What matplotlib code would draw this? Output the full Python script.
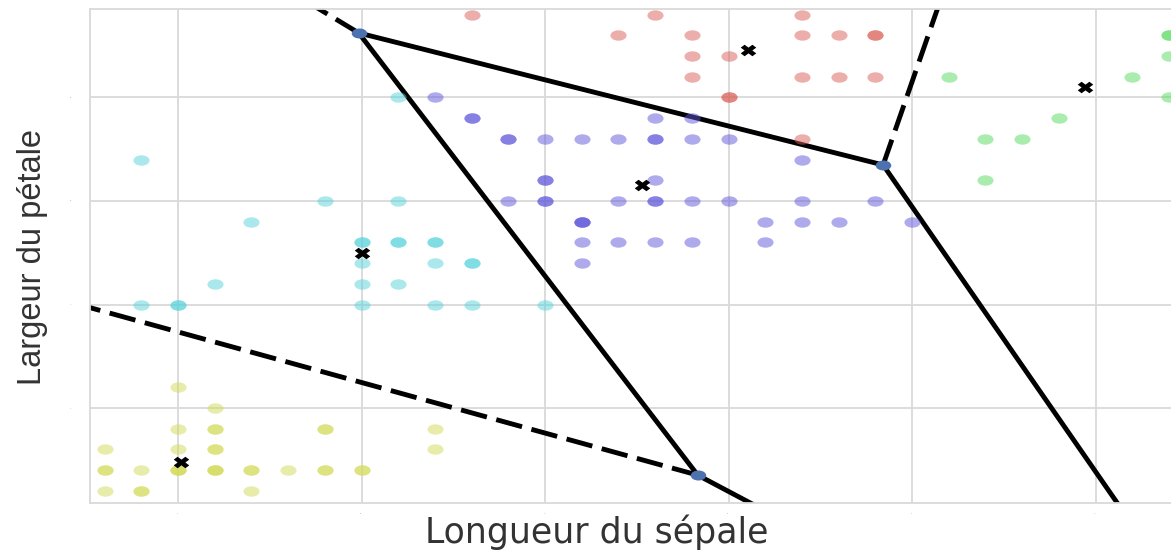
from itertools import combinations

import numpy as np
import matplotlib
matplotlib.use("Agg")
import matplotlib.pyplot as plt
import seaborn as sns
from matplotlib.path import Path
from matplotlib.markers import MarkerStyle
from matplotlib.transforms import Affine2D

# iris flowers grouped in 5 clusters : (sepal length, petal width)
yellow_x = [4.5, 4.6, 4.5, 4.6, 4.6, 4.9, 4.9, 5.2, 4.3, 4.5, 4.6, 4.6, 5.2,
            4.3, 4.3, 4.4, 4.5, 4.5, 4.5, 4.6, 4.6, 4.6, 4.7, 4.7, 4.8,
            4.9, 4.9, 5.0, 5.0, 4.3, 4.4, 4.4, 4.7]
yellow_y = [0.6, 0.5, 0.4, 0.4, 0.4, 0.4, 0.4, 0.4, 0.3, 0.3, 0.3, 0.3, 0.3,
            0.2, 0.2, 0.2, 0.2, 0.2, 0.2, 0.2, 0.2, 0.2, 0.2, 0.2, 0.2,
            0.2, 0.2, 0.2, 0.2, 0.1, 0.1, 0.1, 0.1]

cyan_x = [4.4, 4.9, 4.7, 5.0, 5.0, 5.0, 4.6, 5.0, 4.4, 4.5, 4.5, 5.0, 5.1,
          5.1, 5.1, 5.1, 5.2, 5.2, 5.2, 5.3, 5.3, 5.1, 5.2, 5.3, 5.5]
cyan_y = [1.7, 1.5, 1.4, 1.3, 1.3, 1.2, 1.1, 1.1, 1.0, 1.0, 1.0, 1.0, 2.0,
          1.5, 1.3, 1.3, 1.3, 1.3, 1.2, 1.2, 1.2, 1.1, 1.0, 1.0, 1.0]

blue_x = [5.2, 5.3, 5.3, 5.8, 5.9,
          5.4, 5.4, 5.5, 5.6, 5.7, 5.8, 5.8, 5.9, 6.0,
          6.2,
          5.5, 5.5, 5.8,
          5.4, 5.5, 5.5, 5.7, 5.8, 5.8, 5.9, 6.0, 6.2, 6.4,
          5.6, 5.6, 5.6, 6.1, 6.2, 6.3, 6.5,
          5.6, 5.7, 5.8, 5.9, 6.1,
          5.6]
blue_y = [2.0, 1.9, 1.9, 1.9, 1.9,
          1.8, 1.8, 1.8, 1.8, 1.8, 1.8, 1.8, 1.8, 1.8,
          1.7,
          1.6, 1.6, 1.6,
          1.5, 1.5, 1.5, 1.5, 1.5, 1.5, 1.5, 1.5, 1.5, 1.5,
          1.4, 1.4, 1.4, 1.4, 1.4, 1.4, 1.4,
          1.3, 1.3, 1.3, 1.3, 1.3,
          1.2]

red_x = [5.3, 5.8, 6.2, 5.7, 5.9, 6.2, 6.3, 6.4, 6.4, 5.9, 6.0,
         5.9, 6.2, 6.3, 6.4, 6.0, 6.0, 6.2]
red_y = [2.4, 2.4, 2.4, 2.3, 2.3, 2.3, 2.3, 2.3, 2.3, 2.2, 2.2,
         2.1, 2.1, 2.1, 2.1, 2.0, 2.0, 1.8]

green_x = [6.6, 7.1, 6.9, 6.7, 6.8, 6.7, 7.2, 7.2, 7.2, 7.2]
green_y = [2.1, 2.1, 1.9, 1.8, 1.8, 1.6, 2.3, 2.3, 2.2, 2.0]

# cluster centres (k-means)
centre_x = [6.054, 6.971, 5.763, 5.000, 4.508]
centre_y = [2.229, 2.049, 1.577, 1.247, 0.240]


def voronoi_ridges(pts):
    """Vertices and ridges of the Voronoi diagram of a few points."""
    n = len(pts)
    verts, owners = [], []
    for i, j, k in combinations(range(n), 3):
        a, b, c = pts[i], pts[j], pts[k]
        A = 2 * np.array([b - a, c - a])
        if abs(np.linalg.det(A)) < 1e-12:
            continue
        p = np.linalg.solve(A, [b @ b - a @ a, c @ c - a @ a])
        r = np.linalg.norm(p - a)
        if all(np.linalg.norm(pts[m] - p) > r for m in range(n) if m not in (i, j, k)):
            verts.append(p)
            owners.append({i, j, k})

    center = pts.mean(axis=0)
    finite, infinite = [], []
    for i, j in combinations(range(n), 2):
        shared = [v for v, o in zip(verts, owners) if i in o and j in o]
        if len(shared) == 2:
            finite.append(shared)
        elif len(shared) == 1:
            t = pts[j] - pts[i]
            t = t / np.linalg.norm(t)
            nrm = np.array([-t[1], t[0]])
            mid = (pts[i] + pts[j]) / 2
            direction = np.sign(np.dot(mid - center, nrm)) * nrm
            infinite.append([shared[0], shared[0] + direction * 10])
    return np.array(verts), finite, infinite


pal = sns.color_palette("hls", 6)
clusters = [
    (yellow_x, yellow_y, pal[1]),
    (cyan_x, cyan_y, pal[3]),
    (blue_x, blue_y, pal[4]),
    (red_x, red_y, pal[0]),
    (green_x, green_y, pal[2]),
]

W, H = 1171, 551
fig = plt.figure(figsize=(W / 100, H / 100), dpi=100)
ax = fig.add_axes([90 / W, 48 / H, 1093 / W, 494 / H])

# oval markers
oval = Path.unit_circle().transformed(Affine2D().scale(1.55, 1.0))
xm = MarkerStyle("X")
cross = xm.get_path().transformed(xm.get_transform()).transformed(Affine2D().scale(1.35, 1.0))

centres = np.column_stack([centre_x, centre_y])
verts, finite, infinite = voronoi_ridges(centres)

for seg in finite:
    seg = np.array(seg)
    ax.plot(seg[:, 0], seg[:, 1], color="black", lw=3.5, solid_capstyle="butt", zorder=2)
for seg in infinite:
    seg = np.array(seg)
    ax.plot(seg[:, 0], seg[:, 1], color="black", lw=3.5, dashes=(5.5, 2.0), zorder=2)
ax.scatter(verts[:, 0], verts[:, 1], marker=oval, s=125, color="#4C72B0",
           linewidths=0, zorder=4)

for xs, ys, col in clusters:
    ax.scatter(xs, ys, marker=oval, s=135, color=col, alpha=0.5, linewidths=0, zorder=3)

ax.scatter(centre_x, centre_y, marker=cross, s=125, color="black", linewidths=0, zorder=5)

ax.set_xlim(4.2602, 7.2384)
ax.set_ylim(0.0411, 2.4275)
ax.set_xticks([4.5, 5.0, 5.5, 6.0, 6.5, 7.0])
ax.set_yticks([0.5, 1.0, 1.5, 2.0])
ax.tick_params(length=0, labelsize=1, labelcolor="#999999")
ax.tick_params(axis="x", pad=7)
ax.tick_params(axis="y", pad=13)
ax.grid(True, color="#d9d9d9", lw=1.3, zorder=0)
ax.set_axisbelow(True)
for side in ax.spines:
    ax.spines[side].set_color("#d9d9d9")
    ax.spines[side].set_linewidth(1.3)

ax.set_xlabel("Longueur du sépale", fontsize=25, family="DejaVu Sans", color="#333333")
ax.xaxis.set_label_coords(0.464, -0.024)
ax.set_ylabel("Largeur du pétale", family="Liberation Sans", fontsize=23.5, color="#333333")
ax.yaxis.set_label_coords(-0.038, 0.498)

fig.savefig("out.png", dpi=100)
